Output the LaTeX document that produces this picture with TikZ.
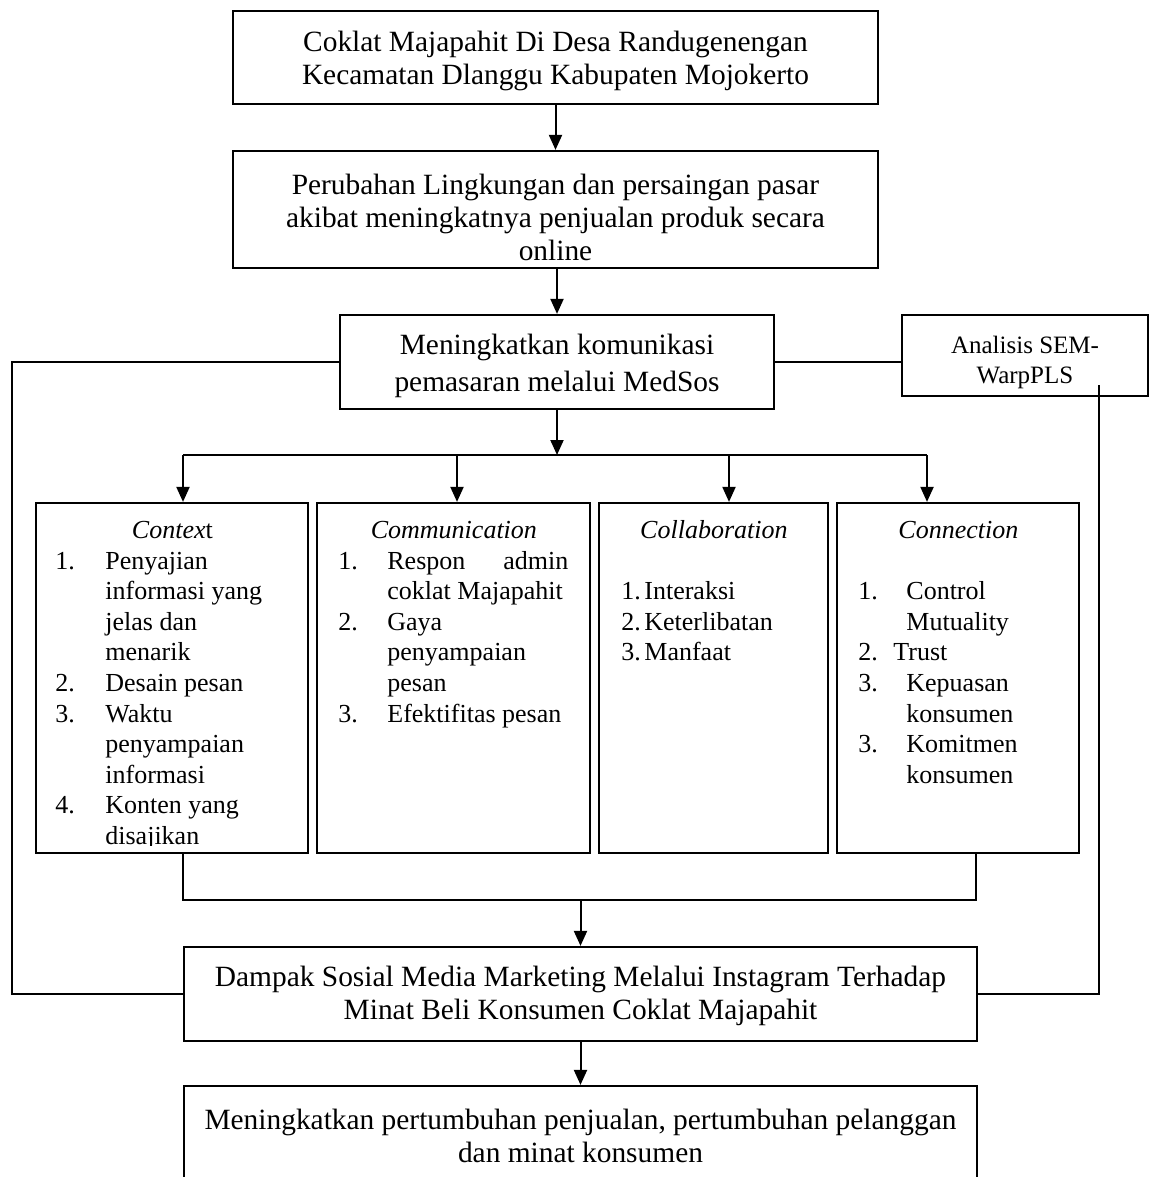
\documentclass[tikz,border=0pt]{standalone}
\usepackage{fontspec}
\setmainfont{Liberation Serif}
\usetikzlibrary{arrows.meta}
\newcommand{\bigfont}{\fontsize{14.7pt}{16.5pt}\selectfont}
\newcommand{\listfont}{\fontsize{13pt}{15.3pt}\selectfont\raggedright}
\tikzset{
  box/.style={draw, line width=1.1pt, rectangle, inner sep=0pt},
  bigtxt/.style={align=center, inner sep=0pt, font=\bigfont},
  listtxt/.style={anchor=base west, inner sep=0pt},
  ln/.style={line width=1pt},
  arr/.style={line width=1pt, -{Triangle[length=7.5pt,width=6.5pt]}},
}
\begin{document}
\begin{tikzpicture}[x=0.5pt,y=-0.5pt]
\fill[white] (0,0) rectangle (1149,1177);
\useasboundingbox (0,0) rectangle (1149,1177);

% top chain
\node[box, minimum width=322.5pt, minimum height=46.5pt] (b1) at (555.5,57.5) {};
\node[bigtxt] (b1t) at (555.5,61) {Coklat Majapahit Di Desa Randugenengan\\Kecamatan Dlanggu Kabupaten Mojokerto};

\node[box, minimum width=322.5pt, minimum height=58.5pt] (b2) at (555.5,209.5) {};
\node[bigtxt] (b2t) at (555.5,217.5) {Perubahan Lingkungan dan persaingan pasar\\akibat meningkatnya penjualan produk secara\\online};

\node[box, minimum width=217pt, minimum height=47pt] (b3) at (557,362) {};
\node[bigtxt, font=\fontsize{14.7pt}{18.5pt}\selectfont] (b3t) at (557,366) {Meningkatkan komunikasi\\pemasaran melalui MedSos};

\node[box, minimum width=123pt, minimum height=40.5pt] (sem) at (1025,355.5) {};
\node[bigtxt, font=\fontsize{12.5pt}{15pt}\selectfont] (semt) at (1025,362.5) {Analisis SEM-\\WarpPLS};

% four boxes
\node[box, minimum width=136pt, minimum height=175pt] (ctx) at (172,678) {};
\node[box, minimum width=136.5pt, minimum height=175pt] (comm) at (453.5,678) {};
\node[box, minimum width=114.5pt, minimum height=175pt] (coll) at (713.5,678) {};
\node[box, minimum width=121pt, minimum height=175pt] (conn) at (958,678) {};

\begin{scope}
\clip (36,503) rectangle (308,845);
\node[listtxt] (ctxt) at (36,538.5) {\parbox[t]{136pt}{\listfont
\makebox[136pt]{\textit{Contex}t}\\
\hspace*{9.5pt}\makebox[25pt][l]{1.}Penyajian\\
\hspace*{34.5pt}informasi yang\\
\hspace*{34.5pt}jelas dan\\
\hspace*{34.5pt}menarik\\
\hspace*{9.5pt}\makebox[25pt][l]{2.}Desain pesan\\
\hspace*{9.5pt}\makebox[25pt][l]{3.}Waktu\\
\hspace*{34.5pt}penyampaian\\
\hspace*{34.5pt}informasi\\
\hspace*{9.5pt}\makebox[25pt][l]{4.}Konten yang\\
\hspace*{34.5pt}disajikan}};
\end{scope}

\node[listtxt] (commt) at (317,538.5) {\parbox[t]{136.5pt}{\listfont
\makebox[136.5pt]{\textit{Communication}}\\
\hspace*{10.5pt}\makebox[24.5pt][l]{1.}\makebox[90.5pt][s]{Respon admin}\\
\hspace*{35pt}coklat Majapahit\\
\hspace*{10.5pt}\makebox[24.5pt][l]{2.}Gaya\\
\hspace*{35pt}penyampaian\\
\hspace*{35pt}pesan\\
\hspace*{10.5pt}\makebox[24.5pt][l]{3.}Efektifitas pesan}};

\node[listtxt] (collt) at (599,538.5) {\parbox[t]{114.5pt}{\listfont
\makebox[114.5pt]{\textit{Collaboration}}\\
\mbox{}\\
\hspace*{11pt}\makebox[11.5pt][l]{1.}Interaksi\\
\hspace*{11pt}\makebox[11.5pt][l]{2.}Keterlibatan\\
\hspace*{11pt}\makebox[11.5pt][l]{3.}Manfaat}};

\node[listtxt] (connt) at (837,538.5) {\parbox[t]{121pt}{\listfont
\makebox[121pt]{\textit{Connection}}\\
\mbox{}\\
\hspace*{10.5pt}\makebox[24pt][l]{1.}Control\\
\hspace*{34.5pt}Mutuality\\
\hspace*{10.5pt}\makebox[17.5pt][l]{2.}Trust\\
\hspace*{10.5pt}\makebox[24pt][l]{3.}Kepuasan\\
\hspace*{34.5pt}konsumen\\
\hspace*{10.5pt}\makebox[24pt][l]{3.}Komitmen\\
\hspace*{34.5pt}konsumen}};

% bottom boxes
\node[box, minimum width=396.5pt, minimum height=47pt] (dampak) at (580.5,994) {};
\node[bigtxt] (dampakt) at (580.5,996) {Dampak Sosial Media Marketing Melalui Instagram Terhadap\\Minat Beli Konsumen Coklat Majapahit};

\node[box, minimum width=396.5pt, minimum height=47.5pt] (last) at (580.5,1133.5) {};
\node[bigtxt] (lastt) at (580.5,1136) {Meningkatkan pertumbuhan penjualan, pertumbuhan pelanggan\\dan minat konsumen};

% connectors
\draw[arr] (b1.south -| b1t) -- (b2.north -| b1t);
\draw[arr] (b2.south -| b3.north) -- (b3.north);
\coordinate (br) at (557,455);
\draw[arr] (b3.south) -- (br);
\coordinate (bl) at (183,455);
\coordinate (bc2) at (457,455);
\coordinate (bc3) at (729,455);
\coordinate (bc4) at (927,455);
\draw[ln] (bl) -- (bc4);
\draw[arr] (bl) -- (bl |- ctx.north);
\draw[arr] (bc2) -- (bc2 |- comm.north);
\draw[arr] (bc3) -- (bc3 |- coll.north);
\draw[arr] (bc4) -- (bc4 |- conn.north);

\coordinate (lt) at (12,362);
\coordinate (lb) at (12,994);
\draw[ln] (b3.west) -- (lt) -- (lb) -- (dampak.west);
\draw[ln] (b3.east) -- (sem.west |- b3.east);

\coordinate (rs) at (1099,385);
\coordinate (rb) at (1099,994);
\draw[ln] (rs) -- (rb) -- (dampak.east);

\coordinate (m1) at (183,900);
\coordinate (m2) at (976,900);
\draw[ln] (ctx.south -| m1) -- (m1) -- (m2) -- (conn.south -| m2);
\coordinate (mc) at (580.5,900);
\draw[arr] (mc) -- (dampak.north);
\draw[arr] (dampak.south) -- (last.north);
\end{tikzpicture}
\end{document}
